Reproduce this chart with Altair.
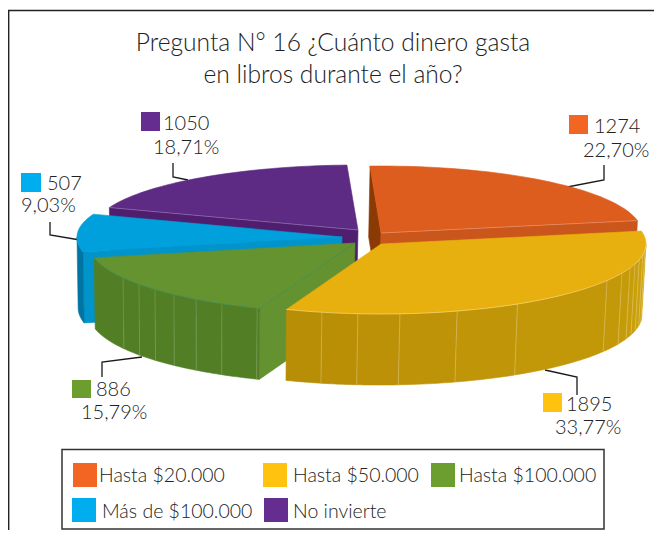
import math
import altair as alt
import pandas as pd

categories = ["Hasta $20.000", "Hasta $50.000", "Hasta $100.000", "Más de $100.000", "No invierte"]
values = [1274, 1895, 886, 507, 1050]
pct_labels = ["22,70%", "33,77%", "15,79%", "9,03%", "18,71%"]
title_lines = ["Pregunta N° 16 ¿Cuánto dinero gasta", "en libros durante el año?"]

FONT = "Lato"
WEIGHT = 300
TXT = "#222222"
X = alt.Scale(domain=[8, 654], nice=False, zero=False)
Y = alt.Scale(domain=[530, 8], nice=False, zero=False)
THICK = 71
START = 92.4

# geometry settings of every slice: explode centre, radii
geo = {
    0: dict(c=(381, 233), rx=261, ry_up=67, ry_dn=70),
    1: dict(c=(381, 244), rx=265, ry_up=70, ry_dn=70),
    2: dict(c=(355, 243), rx=267, ry_up=70, ry_dn=70),
    3: dict(c=(342, 237), rx=265, ry_up=66, ry_dn=70),
    4: dict(c=(358, 230), rx=265, ry_up=65, ry_dn=70),
}
top_col = ["#DD5D1E", "#E8B00E", "#65932F", "#00A0DC", "#5D2A84"]
key_col = ["#F36523", "#FFC20E", "#6C9E2F", "#00AEEF", "#662D91"]

total = sum(values)
angles = {}
a = START
for i, v in enumerate(values):
    b = a - v / total * 360
    angles[i] = (a, b)
    a = b


def rim(i, t):
    g = geo[i]
    s = math.sin(math.radians(t))
    ry = g["ry_up"] if s > 0 else g["ry_dn"]
    return (g["c"][0] + g["rx"] * math.cos(math.radians(t)), g["c"][1] - ry * s)


def low(p, i):
    cx = geo[i]["c"][0]
    return (cx + (p[0] - cx) * 0.99 - 1.5, p[1] + THICK)


def frange(a, b, n=40):
    return [a + (b - a) * k / n for k in range(n + 1)]


def frame(pts):
    return pd.DataFrame({"x": [p[0] for p in pts], "y": [p[1] for p in pts], "i": range(len(pts))})


def enc(ch):
    return ch.encode(
        x=alt.X("x:Q", scale=X, axis=None),
        y=alt.Y("y:Q", scale=Y, axis=None),
        order=alt.Order("i:Q"),
    )


def poly(pts, col):
    return enc(alt.Chart(frame(pts + pts[:1])).mark_line(fill=col, stroke=col, strokeWidth=0.6, strokeJoin="round"))


def line(pts, col="#1a1a1a", w=1.3, op=1.0):
    return enc(alt.Chart(frame(pts)).mark_line(stroke=col, strokeWidth=w, opacity=op))


def top(i):
    a, b = angles[i]
    return poly([geo[i]["c"]] + [rim(i, t) for t in frange(a, b)], top_col[i])


def radial(i, t, col):
    c, r = geo[i]["c"], rim(i, t)
    return poly([c, r, low(r, i), low(c, i)], col)


def wall(i, lo, hi, seams, c1, c2, seam_op=0.3):
    """Outer wall from angle lo to hi, split in facets at the seams."""
    edges = [lo] + seams + [hi]
    out = []
    n = len(edges) - 1
    for k in range(n):
        f = k / max(n - 1, 1)
        rgb = [int(int(c1[j:j + 2], 16) * (1 - f) + int(c2[j:j + 2], 16) * f) for j in (1, 3, 5)]
        col = "#%02X%02X%02X" % tuple(rgb)
        up = [rim(i, t) for t in frange(edges[k], edges[k + 1], 10)]
        out.append(poly(up + [low(p, i) for p in reversed(up)], col))
    for s in seams:
        p = rim(i, s)
        out.append(line([p, low(p, i)], "#FFFFFF", 0.8, seam_op))
    return out


ink = []
# frame
ink.append(line([(8.7, 530), (8.7, 10.5), (654, 10.5)], "#222222", 1.4))

# leader lines drawn under the pie
leaders = [
    [(604, 165), (604, 180), (562, 188)],
    [(545, 370), (577, 377), (577, 395)],
    [(142, 357), (102, 362), (102, 377)],
    [(50, 222), (50, 235), (80, 240)],
    [(173, 163), (173, 177), (188, 180)],
]
for l in leaders:
    ink.append(line(l))

# purple
a4, b4 = angles[4]
ink.append(radial(4, a4, "#4F1E6F"))
ink.append(top(4))
ink.append(line([rim(4, a4), geo[4]["c"]], "#FFFFFF", 0.8, 0.3))
# orange
a0, b0 = angles[0]
ink.append(radial(0, a0, "#8C3A03"))
ink.append(radial(0, b0, "#CB561C"))
ink.append(top(0))
ink.append(line([rim(0, b0), geo[0]["c"]], "#FFFFFF", 0.8, 0.3))
# blue
a3, b3 = angles[3]
ink.append(radial(3, a3, "#0094CB"))
ink += wall(3, a3, -180, [], "#0075A2", "#0075A2")
ink.append(top(3))
# green
a2, b2 = angles[2]
ink.append(radial(2, a2, "#649230"))
ink += wall(2, a2, b2, [-111.5, -119.9, -126.5, -132.7, -138.5, -144, -150.3], "#527E25", "#527E25", 0.2)
ink.append(top(2))
ink.append(line([rim(2, t) for t in frange(a2, b2)], "#2F8F80", 0.7, 0.5))
ink.append(line([rim(2, a2), geo[2]["c"]], "#2F8F80", 0.7, 0.5))
# yellow
a1, b1 = angles[1]
ink += wall(1, b1, 0, [-102.9, -95, -85.9, -73.3, -59, -31.5, -24.6, -20, -16.6, -13, -9, -5], "#B88E06", "#D0A50C")
ink.append(top(1))
ink.append(line([rim(1, t) for t in frange(b1, 0)], "#FFF2C0", 0.8, 0.5))


def rect(x0, y0, x1, y1, fill, stroke=None):
    d = pd.DataFrame({"x": [x0], "x2": [x1], "y": [y0], "y2": [y1]})
    kw = dict(fill=fill)
    if stroke:
        kw.update(stroke=stroke, strokeWidth=1.5)
    return alt.Chart(d).mark_rect(**kw).encode(
        x=alt.X("x:Q", scale=X, axis=None), x2="x2:Q",
        y=alt.Y("y:Q", scale=Y, axis=None), y2="y2:Q",
    )


def text(x, y, s, size=20, align="left"):
    d = pd.DataFrame({"x": [x], "y": [y + 1.5], "t": [s]})
    return alt.Chart(d).mark_text(
        font=FONT, fontWeight=WEIGHT, fontSize=size, align=align, baseline="middle", color=TXT
    ).encode(
        x=alt.X("x:Q", scale=X, axis=None),
        y=alt.Y("y:Q", scale=Y, axis=None),
        text="t:N",
    )


ink.append(text(333, 42, title_lines[0], 24.6, "center"))
ink.append(text(333, 74, title_lines[1], 24.6, "center"))

# data labels: swatch box, value position, percent position
lab = {
    0: ((569, 115, 588, 134), (594, 125), (583, 149)),
    1: ((543, 393, 562, 412), (566, 403), (555, 426)),
    2: ((72, 380, 91, 398), (96, 388), (81, 411)),
    3: ((21, 173, 41, 192), (47, 182), (21, 204)),
    4: ((141, 112, 160, 131), (163, 122), (153, 146)),
}
for i, (sw, vp, pp) in lab.items():
    ink.append(rect(*sw, key_col[i]))
    ink.append(text(vp[0], vp[1], str(values[i])))
    ink.append(text(pp[0], pp[1], pct_labels[i]))

# legend
ink.append(rect(62, 449.5, 604, 529, "#FFFFFF", "#333333"))
leg = {
    0: ((73, 463, 97, 487), (99, 474)),
    1: ((263, 463, 287, 487), (293, 474)),
    2: ((431, 463, 455, 487), (459, 474)),
    3: ((72, 498, 96, 522), (102, 510)),
    4: ((264, 498, 288, 522), (293, 510)),
}
for i, (sw, tp) in leg.items():
    ink.append(rect(*sw, key_col[i]))
    ink.append(text(tp[0], tp[1], categories[i], 19.5))

chart = alt.layer(*ink).properties(
    width=646, height=522, padding=0, background="#FFFFFF",
    autosize=alt.AutoSizeParams(type="none", contains="padding"),
).configure_view(strokeWidth=0)

chart.save("out.html", embed_options={"renderer": "svg", "actions": False})
